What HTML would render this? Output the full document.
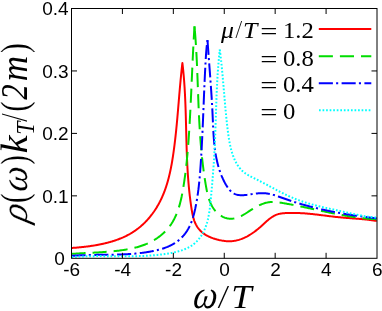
<!DOCTYPE html>
<html><head><meta charset="utf-8"><style>
html,body{margin:0;padding:0;background:#fff;}
svg{display:block;will-change:transform;}
.sans text{font-family:"Liberation Sans",sans-serif;font-size:19px;fill:#000;}
.serif{font-family:"Liberation Serif",serif;fill:#000;}
.it{font-style:italic;}
</style></head><body>
<svg width="382" height="311" viewBox="0 0 382 311">
<rect width="382" height="311" fill="#fff"/>
<g fill="none" stroke-width="2" stroke-linejoin="round">
<path d="M71.50 248.00 L72.09 247.96 L72.69 247.91 L73.29 247.87 L73.89 247.82 L74.49 247.77 L75.09 247.73 L75.69 247.68 L76.30 247.63 L76.90 247.57 L77.51 247.52 L78.12 247.47 L78.73 247.41 L79.34 247.35 L79.95 247.29 L80.56 247.23 L81.17 247.17 L81.79 247.11 L82.40 247.05 L83.02 246.98 L83.64 246.91 L84.25 246.84 L84.87 246.77 L85.49 246.70 L86.11 246.62 L86.73 246.55 L87.35 246.47 L87.97 246.39 L88.59 246.31 L89.21 246.22 L89.84 246.14 L90.46 246.05 L91.08 245.96 L91.70 245.86 L92.33 245.77 L92.95 245.67 L93.57 245.58 L94.19 245.47 L94.82 245.37 L95.44 245.27 L96.06 245.16 L96.68 245.05 L97.31 244.94 L97.93 244.82 L98.55 244.70 L99.17 244.58 L99.79 244.46 L100.41 244.34 L101.03 244.21 L101.65 244.08 L102.26 243.95 L102.88 243.81 L103.50 243.67 L104.11 243.53 L104.73 243.39 L105.34 243.24 L105.96 243.09 L106.57 242.94 L107.18 242.78 L107.79 242.62 L108.40 242.46 L109.00 242.30 L109.61 242.13 L110.22 241.96 L110.82 241.79 L111.42 241.61 L112.02 241.43 L112.62 241.25 L113.22 241.06 L113.82 240.87 L114.41 240.68 L115.00 240.48 L115.60 240.28 L116.19 240.07 L116.77 239.87 L117.36 239.66 L117.94 239.44 L118.53 239.22 L119.11 239.00 L119.68 238.78 L120.26 238.55 L120.84 238.32 L121.41 238.08 L121.98 237.84 L122.54 237.59 L123.11 237.35 L123.67 237.09 L124.23 236.84 L124.79 236.58 L125.35 236.32 L125.90 236.05 L126.45 235.78 L127.00 235.50 L127.54 235.22 L128.08 234.93 L128.62 234.65 L129.16 234.35 L129.69 234.06 L130.22 233.75 L130.75 233.45 L131.28 233.14 L131.80 232.82 L132.32 232.50 L132.83 232.18 L133.34 231.85 L133.85 231.52 L134.36 231.18 L134.86 230.84 L135.36 230.49 L135.86 230.14 L136.35 229.79 L136.84 229.43 L137.32 229.07 L137.81 228.70 L138.29 228.33 L138.76 227.95 L139.24 227.57 L139.71 227.19 L140.17 226.80 L140.64 226.41 L141.10 226.01 L141.55 225.61 L142.00 225.21 L142.45 224.80 L142.90 224.39 L143.34 223.98 L143.78 223.56 L144.22 223.14 L144.65 222.71 L145.08 222.28 L145.51 221.85 L145.93 221.41 L146.35 220.97 L146.77 220.53 L147.18 220.08 L147.59 219.63 L148.00 219.18 L148.40 218.72 L148.80 218.26 L149.19 217.80 L149.58 217.33 L149.97 216.87 L150.36 216.39 L150.74 215.92 L151.12 215.44 L151.49 214.96 L151.86 214.47 L152.23 213.99 L152.60 213.50 L152.96 213.00 L153.31 212.51 L153.67 212.01 L154.02 211.51 L154.36 211.00 L154.71 210.50 L155.05 209.99 L155.38 209.48 L155.71 208.96 L156.04 208.45 L156.37 207.93 L156.69 207.41 L157.01 206.88 L157.32 206.36 L157.63 205.83 L157.94 205.30 L158.24 204.76 L158.54 204.23 L158.84 203.69 L159.13 203.15 L159.42 202.61 L159.70 202.07 L159.99 201.52 L160.26 200.97 L160.54 200.42 L160.81 199.87 L161.08 199.32 L161.34 198.77 L161.60 198.21 L161.85 197.65 L162.11 197.09 L162.36 196.53 L162.60 195.96 L162.84 195.40 L163.08 194.83 L163.32 194.26 L163.55 193.69 L163.78 193.12 L164.01 192.55 L164.23 191.97 L164.45 191.40 L164.67 190.82 L164.88 190.24 L165.09 189.66 L165.30 189.08 L165.50 188.49 L165.70 187.91 L165.90 187.32 L166.10 186.74 L166.29 186.15 L166.48 185.56 L166.67 184.97 L166.85 184.37 L167.03 183.78 L167.21 183.19 L167.39 182.59 L167.56 181.99 L167.73 181.40 L167.90 180.80 L168.07 180.20 L168.23 179.60 L168.39 178.99 L168.55 178.39 L168.71 177.79 L168.86 177.18 L169.01 176.58 L169.16 175.97 L169.31 175.36 L169.46 174.76 L169.60 174.15 L169.74 173.54 L169.88 172.93 L170.01 172.32 L170.15 171.71 L170.28 171.09 L170.41 170.48 L170.54 169.87 L170.67 169.25 L170.79 168.64 L170.92 168.03 L171.04 167.41 L171.16 166.80 L171.27 166.18 L171.39 165.56 L171.50 164.95 L171.62 164.33 L171.73 163.71 L171.84 163.09 L171.94 162.48 L172.05 161.86 L172.16 161.24 L172.26 160.62 L172.36 160.00 L172.46 159.38 L172.56 158.76 L172.66 158.14 L172.76 157.53 L172.85 156.91 L172.95 156.29 L173.04 155.67 L173.13 155.05 L173.22 154.43 L173.31 153.81 L173.40 153.19 L173.49 152.57 L173.58 151.95 L173.67 151.34 L173.75 150.72 L173.83 150.10 L173.92 149.48 L174.00 148.87 L174.08 148.25 L174.16 147.63 L174.24 147.01 L174.32 146.40 L174.40 145.78 L174.48 145.17 L174.56 144.55 L174.63 143.93 L174.71 143.32 L174.79 142.70 L174.86 142.09 L174.93 141.47 L175.01 140.86 L175.08 140.24 L175.15 139.63 L175.22 139.02 L175.29 138.40 L175.36 137.79 L175.43 137.17 L175.50 136.56 L175.56 135.95 L175.63 135.34 L175.70 134.72 L175.76 134.11 L175.83 133.50 L175.89 132.88 L175.96 132.27 L176.02 131.66 L176.09 131.05 L176.15 130.43 L176.21 129.82 L176.27 129.21 L176.33 128.60 L176.39 127.99 L176.45 127.38 L176.51 126.77 L176.57 126.15 L176.63 125.54 L176.69 124.93 L176.75 124.32 L176.81 123.71 L176.86 123.10 L176.92 122.49 L176.98 121.88 L177.03 121.27 L177.09 120.66 L177.15 120.05 L177.20 119.43 L177.26 118.82 L177.31 118.21 L177.37 117.60 L177.42 116.99 L177.47 116.38 L177.53 115.77 L177.58 115.16 L177.63 114.55 L177.69 113.94 L177.74 113.33 L177.79 112.72 L177.84 112.11 L177.90 111.50 L177.95 110.89 L178.00 110.28 L178.05 109.67 L178.10 109.06 L178.16 108.45 L178.21 107.84 L178.26 107.23 L178.31 106.62 L178.36 106.01 L178.41 105.40 L178.46 104.79 L178.51 104.18 L178.57 103.57 L178.62 102.96 L178.67 102.35 L178.72 101.74 L178.77 101.13 L178.82 100.52 L178.87 99.91 L178.92 99.30 L178.97 98.68 L179.02 98.07 L179.08 97.46 L179.13 96.85 L179.18 96.24 L179.23 95.63 L179.28 95.02 L179.33 94.41 L179.38 93.79 L179.44 93.18 L179.49 92.57 L179.54 91.96 L179.59 91.35 L179.65 90.73 L179.70 90.12 L179.75 89.51 L179.81 88.90 L179.86 88.28 L179.91 87.67 L179.97 87.06 L180.02 86.45 L180.08 85.83 L180.13 85.22 L180.19 84.61 L180.24 83.99 L180.30 83.38 L180.36 82.76 L180.41 82.15 L180.47 81.54 L180.53 80.92 L180.58 80.31 L180.64 79.69 L180.70 79.08 L180.76 78.46 L180.82 77.84 L180.88 77.23 L180.94 76.61 L181.00 76.00 L181.06 75.38 L181.12 74.76 L181.19 74.15 L181.25 73.53 L181.31 72.91 L181.37 72.29 L181.44 71.68 L181.50 71.06 L181.57 70.44 L181.63 69.82 L181.70 69.20 L181.77 68.58 L181.84 67.96 L181.90 67.34 L181.97 66.73 L182.04 66.10 L182.11 65.48 L182.18 64.86 L182.26 64.24 L182.33 63.62 L182.40 63.00 L182.40 63.00 L182.51 63.90 L182.61 64.79 L182.71 65.69 L182.81 66.58 L182.91 67.48 L183.00 68.37 L183.10 69.27 L183.19 70.16 L183.27 71.06 L183.36 71.96 L183.45 72.85 L183.53 73.75 L183.61 74.64 L183.69 75.54 L183.77 76.43 L183.84 77.33 L183.92 78.22 L183.99 79.12 L184.06 80.01 L184.13 80.91 L184.19 81.80 L184.26 82.70 L184.32 83.60 L184.38 84.49 L184.44 85.39 L184.50 86.28 L184.56 87.18 L184.62 88.07 L184.67 88.97 L184.72 89.86 L184.77 90.76 L184.82 91.65 L184.87 92.55 L184.92 93.44 L184.97 94.34 L185.01 95.23 L185.06 96.13 L185.10 97.02 L185.14 97.92 L185.18 98.82 L185.22 99.71 L185.26 100.61 L185.30 101.50 L185.34 102.40 L185.37 103.29 L185.41 104.19 L185.44 105.08 L185.47 105.98 L185.51 106.87 L185.54 107.77 L185.57 108.66 L185.60 109.56 L185.63 110.45 L185.66 111.35 L185.68 112.24 L185.71 113.14 L185.74 114.03 L185.76 114.93 L185.79 115.82 L185.82 116.72 L185.84 117.61 L185.86 118.51 L185.89 119.41 L185.91 120.30 L185.94 121.20 L185.96 122.09 L185.98 122.99 L186.00 123.88 L186.03 124.78 L186.05 125.67 L186.07 126.57 L186.09 127.46 L186.11 128.36 L186.14 129.25 L186.16 130.15 L186.18 131.04 L186.20 131.94 L186.22 132.83 L186.25 133.73 L186.27 134.62 L186.29 135.52 L186.31 136.41 L186.34 137.31 L186.36 138.21 L186.38 139.10 L186.40 140.00 L186.43 140.89 L186.45 141.79 L186.48 142.68 L186.50 143.58 L186.53 144.47 L186.55 145.37 L186.58 146.26 L186.61 147.16 L186.64 148.05 L186.66 148.95 L186.69 149.85 L186.72 150.74 L186.75 151.64 L186.78 152.53 L186.82 153.43 L186.85 154.32 L186.88 155.22 L186.92 156.11 L186.95 157.01 L186.99 157.90 L187.03 158.80 L187.06 159.70 L187.10 160.59 L187.14 161.49 L187.19 162.38 L187.23 163.28 L187.27 164.17 L187.32 165.07 L187.36 165.97 L187.41 166.86 L187.46 167.76 L187.51 168.65 L187.56 169.55 L187.61 170.44 L187.66 171.34 L187.72 172.24 L187.78 173.13 L187.84 174.03 L187.89 174.92 L187.96 175.82 L188.02 176.71 L188.08 177.61 L188.15 178.51 L188.22 179.40 L188.29 180.30 L188.36 181.19 L188.43 182.09 L188.50 182.99 L188.58 183.88 L188.66 184.78 L188.74 185.67 L188.82 186.57 L188.91 187.47 L188.99 188.36 L189.08 189.26 L189.17 190.16 L189.26 191.05 L189.36 191.95 L189.45 192.84 L189.55 193.74 L189.65 194.64 L189.75 195.53 L189.86 196.43 L189.97 197.33 L190.08 198.22 L190.19 199.12 L190.30 200.02 L190.42 200.91 L190.54 201.81 L190.66 202.70 L190.78 203.60 L190.91 204.50 L191.04 205.39 L191.17 206.29 L191.30 207.19 L191.44 208.08 L191.58 208.98 L191.72 209.88 L191.87 210.77 L192.03 211.66 L192.19 212.55 L192.36 213.44 L192.54 214.32 L192.73 215.20 L192.93 216.07 L193.14 216.94 L193.37 217.80 L193.61 218.65 L193.87 219.49 L194.14 220.33 L194.43 221.15 L194.75 221.97 L195.08 222.77 L195.43 223.56 L195.81 224.34 L196.21 225.11 L196.64 225.86 L197.09 226.60 L197.57 227.32 L198.08 228.03 L198.61 228.72 L199.17 229.39 L199.76 230.04 L200.38 230.68 L201.01 231.30 L201.67 231.90 L202.35 232.48 L203.05 233.04 L203.78 233.58 L204.51 234.10 L205.27 234.59 L206.04 235.07 L206.83 235.52 L207.63 235.96 L208.44 236.37 L209.27 236.77 L210.11 237.14 L210.96 237.50 L211.82 237.84 L212.69 238.17 L213.58 238.47 L214.46 238.76 L215.36 239.04 L216.26 239.29 L217.17 239.54 L218.09 239.76 L219.00 239.98 L219.93 240.18 L220.85 240.36 L221.78 240.54 L222.70 240.69 L223.63 240.83 L224.55 240.95 L225.48 241.06 L226.40 241.14 L227.31 241.20 L228.22 241.23 L229.12 241.25 L230.01 241.23 L230.90 241.20 L231.78 241.14 L232.66 241.06 L233.53 240.96 L234.39 240.84 L235.25 240.69 L236.10 240.53 L236.94 240.34 L237.78 240.13 L238.61 239.91 L239.44 239.67 L240.26 239.40 L241.08 239.12 L241.89 238.82 L242.69 238.51 L243.49 238.18 L244.28 237.83 L245.07 237.46 L245.85 237.08 L246.63 236.69 L247.40 236.28 L248.16 235.85 L248.93 235.41 L249.68 234.96 L250.43 234.50 L251.18 234.02 L251.92 233.53 L252.66 233.03 L253.39 232.52 L254.12 232.00 L254.84 231.46 L255.56 230.92 L256.27 230.37 L256.98 229.81 L257.68 229.24 L258.38 228.66 L259.08 228.07 L259.77 227.48 L260.46 226.88 L261.14 226.27 L261.82 225.66 L262.50 225.04 L263.18 224.42 L263.85 223.80 L264.52 223.18 L265.19 222.57 L265.87 221.95 L266.54 221.35 L267.22 220.75 L267.91 220.17 L268.60 219.59 L269.29 219.03 L269.99 218.49 L270.70 217.97 L271.41 217.46 L272.14 216.97 L272.87 216.51 L273.62 216.08 L274.38 215.67 L275.15 215.29 L275.93 214.94 L276.73 214.62 L277.55 214.34 L278.38 214.09 L279.22 213.88 L280.08 213.70 L280.95 213.54 L281.83 213.42 L282.72 213.31 L283.62 213.22 L284.51 213.15 L285.42 213.09 L286.32 213.04 L287.22 213.00 L288.13 212.97 L289.03 212.94 L289.93 212.92 L290.84 212.90 L291.74 212.90 L292.64 212.89 L293.55 212.90 L294.45 212.91 L295.35 212.93 L296.25 212.95 L297.15 212.98 L298.05 213.01 L298.96 213.05 L299.86 213.09 L300.76 213.14 L301.66 213.19 L302.56 213.25 L303.46 213.31 L304.36 213.37 L305.26 213.44 L306.16 213.51 L307.06 213.59 L307.96 213.67 L308.86 213.75 L309.76 213.84 L310.66 213.93 L311.56 214.02 L312.45 214.11 L313.35 214.21 L314.25 214.31 L315.15 214.41 L316.05 214.51 L316.94 214.61 L317.84 214.72 L318.74 214.83 L319.63 214.94 L320.53 215.04 L321.43 215.15 L322.32 215.27 L323.22 215.38 L324.11 215.49 L325.01 215.60 L325.91 215.71 L326.80 215.82 L327.69 215.93 L328.59 216.05 L329.48 216.16 L330.38 216.26 L331.27 216.37 L332.16 216.48 L333.06 216.59 L333.95 216.69 L334.84 216.79 L335.73 216.89 L336.62 216.99 L337.52 217.09 L338.41 217.18 L339.30 217.27 L340.19 217.36 L341.08 217.44 L341.97 217.53 L342.86 217.61 L343.75 217.68 L344.64 217.76 L345.53 217.83 L346.42 217.90 L347.31 217.97 L348.19 218.04 L349.08 218.11 L349.97 218.18 L350.86 218.24 L351.75 218.31 L352.64 218.38 L353.53 218.44 L354.41 218.51 L355.30 218.58 L356.19 218.64 L357.08 218.71 L357.97 218.78 L358.86 218.86 L359.75 218.93 L360.64 219.01 L361.53 219.09 L362.42 219.17 L363.31 219.25 L364.20 219.34 L365.09 219.43 L365.98 219.52 L366.87 219.62 L367.76 219.72 L368.65 219.82 L369.54 219.93 L370.44 220.05 L371.33 220.17 L372.22 220.29 L373.12 220.42 L374.01 220.56 L374.91 220.70 L375.80 220.85 L376.70 221.00" stroke="#ff0000"/>
<path d="M71.50 253.90 L72.26 253.85 L73.02 253.79 L73.78 253.74 L74.54 253.69 L75.31 253.64 L76.07 253.59 L76.83 253.55 L77.59 253.50 L78.36 253.46 L79.12 253.41 L79.89 253.37 L80.65 253.33 L81.42 253.28 L82.18 253.24 L82.95 253.20 L83.71 253.16 L84.48 253.12 L85.25 253.08 L86.01 253.05 L86.78 253.01 L87.55 252.97 L88.32 252.93 L89.08 252.89 L89.85 252.85 L90.62 252.81 L91.39 252.77 L92.16 252.73 L92.93 252.69 L93.70 252.65 L94.47 252.61 L95.24 252.57 L96.02 252.53 L96.79 252.48 L97.56 252.44 L98.33 252.39 L99.11 252.35 L99.88 252.30 L100.65 252.25 L101.43 252.20 L102.20 252.15 L102.97 252.10 L103.75 252.04 L104.52 251.99 L105.30 251.93 L106.07 251.87 L106.85 251.81 L107.62 251.75 L108.40 251.69 L109.18 251.62 L109.95 251.55 L110.73 251.48 L111.51 251.41 L112.29 251.33 L113.06 251.26 L113.84 251.18 L114.62 251.09 L115.40 251.01 L116.18 250.92 L116.96 250.83 L117.74 250.74 L118.52 250.64 L119.30 250.55 L120.08 250.44 L120.86 250.34 L121.64 250.23 L122.42 250.12 L123.20 250.00 L123.98 249.89 L124.76 249.76 L125.53 249.64 L126.31 249.51 L127.09 249.37 L127.87 249.23 L128.64 249.09 L129.42 248.94 L130.19 248.78 L130.96 248.63 L131.73 248.46 L132.50 248.29 L133.27 248.12 L134.03 247.94 L134.79 247.75 L135.56 247.56 L136.31 247.36 L137.07 247.16 L137.82 246.95 L138.57 246.73 L139.32 246.51 L140.07 246.28 L140.81 246.04 L141.55 245.80 L142.28 245.55 L143.01 245.29 L143.74 245.02 L144.47 244.75 L145.19 244.47 L145.90 244.18 L146.62 243.88 L147.32 243.57 L148.03 243.26 L148.73 242.94 L149.42 242.60 L150.11 242.26 L150.80 241.92 L151.48 241.56 L152.16 241.19 L152.83 240.82 L153.49 240.44 L154.15 240.05 L154.80 239.65 L155.45 239.25 L156.09 238.84 L156.73 238.41 L157.36 237.99 L157.98 237.55 L158.60 237.10 L159.21 236.65 L159.81 236.19 L160.41 235.72 L161.00 235.25 L161.59 234.76 L162.16 234.27 L162.73 233.77 L163.29 233.27 L163.84 232.75 L164.39 232.23 L164.93 231.70 L165.46 231.17 L165.98 230.63 L166.49 230.08 L167.00 229.52 L167.49 228.95 L167.98 228.38 L168.46 227.80 L168.93 227.22 L169.39 226.63 L169.85 226.03 L170.29 225.42 L170.72 224.81 L171.14 224.19 L171.56 223.56 L171.96 222.93 L172.36 222.29 L172.75 221.64 L173.12 220.99 L173.49 220.33 L173.85 219.67 L174.21 219.00 L174.55 218.32 L174.89 217.64 L175.21 216.95 L175.53 216.26 L175.84 215.57 L176.15 214.87 L176.45 214.16 L176.74 213.45 L177.02 212.74 L177.29 212.02 L177.56 211.29 L177.82 210.57 L178.08 209.83 L178.33 209.10 L178.57 208.36 L178.81 207.62 L179.04 206.87 L179.26 206.12 L179.48 205.37 L179.70 204.62 L179.91 203.86 L180.11 203.10 L180.31 202.34 L180.50 201.57 L180.69 200.81 L180.87 200.04 L181.05 199.27 L181.23 198.49 L181.40 197.72 L181.56 196.94 L181.73 196.16 L181.88 195.38 L182.04 194.60 L182.19 193.82 L182.34 193.04 L182.48 192.26 L182.63 191.48 L182.77 190.69 L182.90 189.91 L183.04 189.12 L183.17 188.34 L183.30 187.56 L183.42 186.77 L183.55 185.99 L183.67 185.21 L183.79 184.42 L183.91 183.64 L184.03 182.86 L184.15 182.08 L184.26 181.30 L184.38 180.52 L184.49 179.75 L184.60 178.97 L184.71 178.19 L184.82 177.42 L184.92 176.64 L185.03 175.87 L185.13 175.09 L185.23 174.32 L185.33 173.55 L185.43 172.77 L185.52 172.00 L185.62 171.23 L185.71 170.46 L185.81 169.69 L185.90 168.92 L185.99 168.15 L186.08 167.38 L186.17 166.61 L186.25 165.84 L186.34 165.07 L186.42 164.30 L186.51 163.54 L186.59 162.77 L186.67 162.00 L186.75 161.23 L186.83 160.47 L186.90 159.70 L186.98 158.94 L187.05 158.17 L187.13 157.41 L187.20 156.64 L187.27 155.88 L187.35 155.11 L187.42 154.35 L187.48 153.58 L187.55 152.82 L187.62 152.05 L187.69 151.29 L187.75 150.53 L187.82 149.76 L187.88 149.00 L187.94 148.24 L188.00 147.47 L188.07 146.71 L188.13 145.95 L188.19 145.18 L188.24 144.42 L188.30 143.65 L188.36 142.89 L188.42 142.13 L188.47 141.36 L188.53 140.60 L188.58 139.84 L188.64 139.07 L188.69 138.31 L188.74 137.54 L188.80 136.78 L188.85 136.02 L188.90 135.25 L188.95 134.49 L189.00 133.72 L189.05 132.96 L189.10 132.19 L189.15 131.43 L189.20 130.66 L189.25 129.89 L189.29 129.13 L189.34 128.36 L189.39 127.59 L189.44 126.83 L189.48 126.06 L189.53 125.29 L189.57 124.52 L189.62 123.76 L189.66 122.99 L189.71 122.22 L189.75 121.45 L189.79 120.68 L189.84 119.91 L189.88 119.14 L189.92 118.37 L189.96 117.60 L190.01 116.83 L190.05 116.06 L190.09 115.29 L190.13 114.52 L190.17 113.75 L190.21 112.98 L190.25 112.21 L190.29 111.44 L190.33 110.67 L190.37 109.89 L190.41 109.12 L190.45 108.35 L190.49 107.58 L190.53 106.81 L190.57 106.03 L190.60 105.26 L190.64 104.49 L190.68 103.72 L190.72 102.94 L190.75 102.17 L190.79 101.40 L190.83 100.62 L190.86 99.85 L190.90 99.08 L190.94 98.30 L190.97 97.53 L191.01 96.76 L191.05 95.98 L191.08 95.21 L191.12 94.44 L191.15 93.66 L191.19 92.89 L191.22 92.11 L191.26 91.34 L191.29 90.56 L191.33 89.79 L191.36 89.01 L191.40 88.24 L191.43 87.47 L191.47 86.69 L191.50 85.92 L191.54 85.14 L191.57 84.37 L191.61 83.59 L191.64 82.82 L191.68 82.04 L191.71 81.27 L191.74 80.49 L191.78 79.72 L191.81 78.94 L191.85 78.17 L191.88 77.39 L191.92 76.62 L191.95 75.84 L191.99 75.07 L192.02 74.29 L192.06 73.52 L192.09 72.74 L192.12 71.97 L192.16 71.19 L192.19 70.42 L192.23 69.64 L192.26 68.87 L192.30 68.09 L192.33 67.32 L192.37 66.54 L192.40 65.77 L192.44 64.99 L192.48 64.22 L192.51 63.44 L192.55 62.67 L192.58 61.89 L192.62 61.12 L192.66 60.35 L192.69 59.57 L192.73 58.80 L192.77 58.02 L192.80 57.25 L192.84 56.48 L192.88 55.70 L192.92 54.93 L192.95 54.15 L192.99 53.38 L193.03 52.61 L193.07 51.83 L193.11 51.06 L193.14 50.29 L193.18 49.51 L193.22 48.74 L193.26 47.97 L193.30 47.20 L193.34 46.42 L193.38 45.65 L193.42 44.88 L193.46 44.11 L193.51 43.34 L193.55 42.56 L193.59 41.79 L193.63 41.02 L193.67 40.25 L193.72 39.48 L193.76 38.71 L193.80 37.94 L193.85 37.17 L193.89 36.40 L193.94 35.63 L193.98 34.86 L194.03 34.09 L194.07 33.32 L194.12 32.55 L194.16 31.78 L194.21 31.01 L194.26 30.24 L194.31 29.47 L194.35 28.70 L194.40 27.94 L194.45 27.17 L194.50 26.40" stroke="#00dd00" stroke-dasharray="14.1 7" stroke-dashoffset="0.0"/>
<path d="M194.50 26.40 L194.58 27.30 L194.66 28.20 L194.74 29.10 L194.82 30.00 L194.89 30.89" stroke="#00dd00"/>
<path d="M194.89 30.89 L194.97 31.79 L195.04 32.69 L195.11 33.59 L195.18 34.49 L195.25 35.38 L195.32 36.28 L195.38 37.18 L195.45 38.07 L195.51 38.97 L195.58 39.86 L195.64 40.76 L195.70 41.65 L195.76 42.55 L195.82 43.45 L195.88 44.34 L195.93 45.23 L195.99 46.13 L196.04 47.02 L196.10 47.92 L196.15 48.81 L196.20 49.70 L196.25 50.60 L196.31 51.49 L196.35 52.38 L196.40 53.28 L196.45 54.17 L196.50 55.06 L196.54 55.95 L196.59 56.84 L196.64 57.74 L196.68 58.63 L196.72 59.52 L196.77 60.41 L196.81 61.30 L196.85 62.19 L196.89 63.08 L196.93 63.97 L196.97 64.86 L197.01 65.75 L197.05 66.64 L197.09 67.53 L197.13 68.42 L197.16 69.31 L197.20 70.20 L197.24 71.09 L197.27 71.98 L197.31 72.87 L197.34 73.76 L197.38 74.65 L197.41 75.54 L197.45 76.43 L197.48 77.32 L197.52 78.21 L197.55 79.09 L197.58 79.98 L197.62 80.87 L197.65 81.76 L197.68 82.65 L197.71 83.54 L197.75 84.42 L197.78 85.31 L197.81 86.20 L197.85 87.09 L197.88 87.98 L197.91 88.86 L197.94 89.75 L197.98 90.64 L198.01 91.53 L198.04 92.42 L198.07 93.30 L198.11 94.19 L198.14 95.08 L198.17 95.97 L198.21 96.85 L198.24 97.74 L198.27 98.63 L198.31 99.52 L198.34 100.40 L198.38 101.29 L198.41 102.18 L198.45 103.07 L198.48 103.95 L198.52 104.84 L198.55 105.73 L198.59 106.62 L198.63 107.50 L198.67 108.39 L198.70 109.28 L198.74 110.17 L198.78 111.06 L198.82 111.94 L198.86 112.83 L198.90 113.72 L198.94 114.61 L198.99 115.49 L199.03 116.38 L199.07 117.27 L199.11 118.16 L199.16 119.05 L199.20 119.93 L199.25 120.82 L199.30 121.71 L199.34 122.60 L199.39 123.49 L199.44 124.38 L199.49 125.27 L199.54 126.15 L199.59 127.04 L199.65 127.93 L199.70 128.82 L199.76 129.71 L199.81 130.60 L199.87 131.49 L199.92 132.38 L199.98 133.27 L200.04 134.16 L200.10 135.05 L200.16 135.94 L200.23 136.83 L200.29 137.72 L200.36 138.61 L200.42 139.50 L200.49 140.39 L200.56 141.28 L200.63 142.17 L200.70 143.06 L200.77 143.95 L200.84 144.85 L200.92 145.74 L200.99 146.63 L201.07 147.52 L201.15 148.41 L201.23 149.31 L201.31 150.20 L201.40 151.09 L201.48 151.98 L201.57 152.88 L201.65 153.77 L201.74 154.66 L201.83 155.56 L201.93 156.45 L202.02 157.35 L202.12 158.24 L202.21 159.14 L202.31 160.03 L202.41 160.93 L202.51 161.82 L202.62 162.72 L202.72 163.61 L202.83 164.51 L202.94 165.40 L203.05 166.30 L203.16 167.20 L203.27 168.09 L203.39 168.99 L203.51 169.89 L203.63 170.79 L203.75 171.68 L203.87 172.58 L204.00 173.48 L204.13 174.38 L204.26 175.28 L204.39 176.18 L204.52 177.08 L204.66 177.98 L204.79 178.88 L204.93 179.78 L205.08 180.68 L205.22 181.58 L205.37 182.48 L205.51 183.38 L205.66 184.29 L205.82 185.19 L205.97 186.09 L206.13 186.99 L206.29 187.90 L206.46 188.80 L206.63 189.70 L206.81 190.59 L206.99 191.49 L207.18 192.38 L207.38 193.26 L207.59 194.15 L207.81 195.02 L208.04 195.90 L208.27 196.76 L208.52 197.62 L208.79 198.48 L209.06 199.32 L209.35 200.16 L209.66 200.99 L209.98 201.81 L210.31 202.63 L210.67 203.43 L211.04 204.22 L211.43 205.00 L211.83 205.77 L212.26 206.53 L212.71 207.28 L213.18 208.01 L213.67 208.73 L214.18 209.43 L214.71 210.13 L215.27 210.80 L215.86 211.46 L216.47 212.11 L217.10 212.73 L217.75 213.34 L218.42 213.92 L219.11 214.47 L219.82 215.00 L220.54 215.51 L221.28 215.98 L222.04 216.42 L222.81 216.83 L223.59 217.20 L224.38 217.54 L225.19 217.84 L226.00 218.09 L226.82 218.31 L227.65 218.48 L228.48 218.61 L229.32 218.69 L230.17 218.74 L231.02 218.74 L231.87 218.71 L232.72 218.63 L233.57 218.52 L234.43 218.38 L235.28 218.20 L236.13 217.98 L236.98 217.73 L237.83 217.45 L238.67 217.14 L239.51 216.80 L240.34 216.43 L241.16 216.04 L241.98 215.62 L242.80 215.18 L243.61 214.72 L244.42 214.24 L245.22 213.75 L246.02 213.25 L246.82 212.74 L247.62 212.23 L248.41 211.71 L249.20 211.20 L249.99 210.68 L250.78 210.17 L251.57 209.67 L252.36 209.17 L253.15 208.68 L253.94 208.21 L254.73 207.74 L255.52 207.29 L256.31 206.84 L257.11 206.42 L257.90 206.00 L258.70 205.60 L259.50 205.22 L260.30 204.85 L261.10 204.50 L261.91 204.17 L262.72 203.86 L263.53 203.57 L264.34 203.29 L265.16 203.05 L265.98 202.82 L266.81 202.62 L267.64 202.44 L268.47 202.29 L269.31 202.16 L270.16 202.06 L271.01 201.99 L271.86 201.95 L272.72 201.93 L273.58 201.94 L274.45 201.98 L275.32 202.03 L276.20 202.11 L277.08 202.20 L277.96 202.31 L278.84 202.43 L279.72 202.56 L280.61 202.69 L281.49 202.84 L282.37 202.98 L283.26 203.13 L284.14 203.28 L285.02 203.43 L285.91 203.59 L286.79 203.74 L287.67 203.90 L288.55 204.06 L289.43 204.22 L290.32 204.39 L291.20 204.55 L292.08 204.72 L292.96 204.89 L293.84 205.06 L294.72 205.24 L295.60 205.41 L296.48 205.59 L297.36 205.76 L298.24 205.94 L299.11 206.12 L299.99 206.30 L300.87 206.48 L301.75 206.66 L302.63 206.85 L303.51 207.03 L304.38 207.22 L305.26 207.40 L306.14 207.59 L307.02 207.78 L307.89 207.96 L308.77 208.15 L309.65 208.34 L310.52 208.53 L311.40 208.72 L312.28 208.91 L313.16 209.10 L314.03 209.29 L314.91 209.48 L315.79 209.67 L316.66 209.86 L317.54 210.05 L318.42 210.24 L319.29 210.43 L320.17 210.62 L321.05 210.81 L321.92 211.00 L322.80 211.19 L323.68 211.37 L324.55 211.56 L325.43 211.75 L326.31 211.93 L327.19 212.12 L328.06 212.30 L328.94 212.48 L329.82 212.66 L330.69 212.85 L331.57 213.02 L332.45 213.20 L333.33 213.38 L334.21 213.56 L335.08 213.73 L335.96 213.90 L336.84 214.07 L337.72 214.24 L338.60 214.41 L339.48 214.58 L340.36 214.74 L341.24 214.91 L342.12 215.07 L343.00 215.23 L343.88 215.38 L344.76 215.54 L345.64 215.69 L346.52 215.84 L347.40 215.99 L348.28 216.14 L349.17 216.28 L350.05 216.42 L350.93 216.56 L351.81 216.70 L352.70 216.83 L353.58 216.96 L354.46 217.09 L355.35 217.21 L356.23 217.34 L357.12 217.46 L358.00 217.57 L358.89 217.68 L359.77 217.79 L360.66 217.90 L361.55 218.00 L362.44 218.10 L363.32 218.20 L364.21 218.29 L365.10 218.38 L365.99 218.47 L366.88 218.55 L367.77 218.63 L368.66 218.71 L369.55 218.78 L370.44 218.84 L371.34 218.91 L372.23 218.97 L373.12 219.02 L374.02 219.07 L374.91 219.12 L375.80 219.16 L376.70 219.20" stroke="#00dd00" stroke-dasharray="14.1 7" stroke-dashoffset="0.0"/>
<path d="M71.50 255.90 L72.29 255.84 L73.08 255.77 L73.87 255.71 L74.66 255.66 L75.45 255.60 L76.24 255.55 L77.03 255.50 L77.82 255.46 L78.61 255.41 L79.40 255.37 L80.19 255.33 L80.98 255.29 L81.77 255.26 L82.56 255.22 L83.34 255.19 L84.13 255.16 L84.92 255.14 L85.71 255.11 L86.50 255.08 L87.29 255.06 L88.08 255.04 L88.87 255.02 L89.66 255.00 L90.45 254.98 L91.24 254.96 L92.03 254.95 L92.81 254.93 L93.60 254.92 L94.39 254.91 L95.18 254.90 L95.97 254.88 L96.76 254.87 L97.55 254.86 L98.34 254.85 L99.13 254.84 L99.92 254.83 L100.71 254.83 L101.49 254.82 L102.28 254.81 L103.07 254.80 L103.86 254.79 L104.65 254.78 L105.44 254.77 L106.23 254.77 L107.02 254.76 L107.81 254.75 L108.60 254.74 L109.39 254.72 L110.18 254.71 L110.97 254.70 L111.76 254.69 L112.55 254.67 L113.34 254.66 L114.13 254.64 L114.92 254.63 L115.71 254.61 L116.50 254.59 L117.29 254.57 L118.08 254.55 L118.87 254.52 L119.66 254.50 L120.45 254.47 L121.24 254.44 L122.03 254.41 L122.82 254.38 L123.61 254.35 L124.40 254.31 L125.19 254.27 L125.98 254.23 L126.77 254.19 L127.56 254.14 L128.36 254.10 L129.15 254.05 L129.94 254.00 L130.73 253.94 L131.52 253.88 L132.31 253.82 L133.11 253.76 L133.90 253.70 L134.69 253.63 L135.48 253.56 L136.28 253.48 L137.07 253.40 L137.86 253.32 L138.65 253.24 L139.45 253.15 L140.24 253.06 L141.03 252.96 L141.83 252.87 L142.62 252.76 L143.41 252.66 L144.21 252.55 L145.00 252.43 L145.80 252.32 L146.59 252.19 L147.39 252.07 L148.18 251.94 L148.98 251.80 L149.77 251.66 L150.57 251.52 L151.36 251.37 L152.16 251.22 L152.95 251.06 L153.75 250.90 L154.54 250.73 L155.33 250.56 L156.12 250.38 L156.91 250.19 L157.69 250.00 L158.48 249.80 L159.26 249.59 L160.03 249.38 L160.81 249.16 L161.58 248.93 L162.34 248.69 L163.10 248.45 L163.86 248.20 L164.61 247.94 L165.36 247.67 L166.10 247.39 L166.84 247.10 L167.57 246.81 L168.30 246.50 L169.01 246.19 L169.72 245.86 L170.43 245.53 L171.13 245.18 L171.81 244.83 L172.50 244.46 L173.17 244.08 L173.83 243.69 L174.49 243.29 L175.14 242.88 L175.77 242.46 L176.40 242.02 L177.02 241.57 L177.63 241.12 L178.23 240.65 L178.82 240.16 L179.40 239.67 L179.97 239.17 L180.53 238.66 L181.08 238.13 L181.62 237.60 L182.15 237.05 L182.67 236.50 L183.18 235.93 L183.68 235.36 L184.17 234.77 L184.65 234.18 L185.12 233.58 L185.57 232.97 L186.02 232.34 L186.45 231.71 L186.88 231.07 L187.29 230.43 L187.69 229.77 L188.08 229.11 L188.46 228.43 L188.82 227.75 L189.18 227.06 L189.53 226.37 L189.86 225.66 L190.19 224.95 L190.51 224.24 L190.81 223.51 L191.11 222.79 L191.40 222.05 L191.68 221.31 L191.95 220.57 L192.21 219.82 L192.47 219.06 L192.71 218.30 L192.95 217.54 L193.19 216.77 L193.41 216.00 L193.63 215.23 L193.84 214.45 L194.05 213.67 L194.25 212.88 L194.44 212.10 L194.63 211.31 L194.81 210.52 L194.99 209.73 L195.17 208.94 L195.33 208.15 L195.50 207.36 L195.66 206.56 L195.82 205.77 L195.97 204.97 L196.12 204.18 L196.27 203.39 L196.41 202.59 L196.56 201.80 L196.69 201.01 L196.83 200.22 L196.96 199.43 L197.09 198.63 L197.22 197.84 L197.34 197.05 L197.46 196.26 L197.58 195.47 L197.69 194.68 L197.81 193.89 L197.92 193.10 L198.03 192.31 L198.13 191.52 L198.23 190.73 L198.34 189.95 L198.43 189.16 L198.53 188.37 L198.62 187.58 L198.72 186.79 L198.81 186.00 L198.89 185.22 L198.98 184.43 L199.07 183.64 L199.15 182.85 L199.23 182.06 L199.31 181.28 L199.38 180.49 L199.46 179.70 L199.53 178.92 L199.61 178.13 L199.68 177.34 L199.75 176.55 L199.81 175.77 L199.88 174.98 L199.95 174.19 L200.01 173.41 L200.07 172.62 L200.14 171.83 L200.20 171.05 L200.26 170.26 L200.32 169.47 L200.37 168.69 L200.43 167.90 L200.49 167.11 L200.54 166.33 L200.60 165.54 L200.65 164.75 L200.71 163.96 L200.76 163.18 L200.81 162.39 L200.86 161.60 L200.92 160.81 L200.97 160.03 L201.02 159.24 L201.07 158.45 L201.12 157.66 L201.16 156.88 L201.21 156.09 L201.26 155.30 L201.31 154.51 L201.35 153.72 L201.40 152.94 L201.45 152.15 L201.49 151.36 L201.54 150.57 L201.58 149.78 L201.62 149.00 L201.67 148.21 L201.71 147.42 L201.75 146.63 L201.80 145.84 L201.84 145.05 L201.88 144.26 L201.92 143.48 L201.96 142.69 L202.00 141.90 L202.04 141.11 L202.08 140.32 L202.12 139.53 L202.16 138.74 L202.20 137.95 L202.23 137.16 L202.27 136.38 L202.31 135.59 L202.35 134.80 L202.38 134.01 L202.42 133.22 L202.46 132.43 L202.49 131.64 L202.53 130.85 L202.56 130.06 L202.60 129.27 L202.64 128.48 L202.67 127.69 L202.70 126.90 L202.74 126.11 L202.77 125.32 L202.81 124.54 L202.84 123.75 L202.88 122.96 L202.91 122.17 L202.94 121.38 L202.98 120.59 L203.01 119.80 L203.04 119.01 L203.07 118.22 L203.11 117.43 L203.14 116.64 L203.17 115.85 L203.20 115.06 L203.24 114.27 L203.27 113.48 L203.30 112.69 L203.33 111.90 L203.36 111.11 L203.40 110.32 L203.43 109.53 L203.46 108.74 L203.49 107.95 L203.52 107.16 L203.56 106.37 L203.59 105.58 L203.62 104.79 L203.65 104.00 L203.68 103.21 L203.72 102.42 L203.75 101.63 L203.78 100.84 L203.81 100.05 L203.84 99.26 L203.88 98.47 L203.91 97.68 L203.94 96.89 L203.97 96.10 L204.00 95.31 L204.04 94.52 L204.07 93.73 L204.10 92.94 L204.14 92.15 L204.17 91.36 L204.20 90.57 L204.24 89.78 L204.27 88.99 L204.30 88.20 L204.34 87.41 L204.37 86.62 L204.41 85.83 L204.44 85.04 L204.48 84.25 L204.51 83.46 L204.55 82.67 L204.58 81.88 L204.62 81.09 L204.65 80.30 L204.69 79.51 L204.73 78.72 L204.76 77.93 L204.80 77.14 L204.84 76.35 L204.87 75.56 L204.91 74.77 L204.95 73.98 L204.99 73.19 L205.03 72.40 L205.07 71.61 L205.11 70.82 L205.15 70.03 L205.19 69.24 L205.23 68.45 L205.27 67.66 L205.31 66.87 L205.35 66.08 L205.40 65.29 L205.44 64.50 L205.48 63.71 L205.53 62.92 L205.57 62.13 L205.61 61.34 L205.66 60.55 L205.71 59.76 L205.75 58.97 L205.80 58.19 L205.85 57.40 L205.90 56.61 L205.95 55.82 L206.00 55.03 L206.05 54.24 L206.11 53.45 L206.17 52.67 L206.23 51.88 L206.29 51.09 L206.36 50.30 L206.42 49.52 L206.49 48.73 L206.57 47.94 L206.64 47.16 L206.72 46.37 L206.81 45.59 L206.89 44.80 L206.98 44.02 L207.08 43.23 L207.18 42.45 L207.28 41.66 L207.39 40.88 L207.50 40.10" stroke="#0000ff" stroke-dasharray="14.1 3.2 2.1 3.4" stroke-dashoffset="0.0"/>
<path d="M207.50 40.10 L207.55 40.87" stroke="#0000ff"/>
<path d="M207.55 40.87 L207.61 41.65 L207.66 42.42 L207.71 43.19 L207.77 43.96 L207.82 44.73 L207.88 45.50 L207.93 46.27 L207.99 47.04 L208.04 47.81 L208.10 48.57 L208.15 49.34 L208.21 50.11 L208.26 50.87 L208.32 51.64 L208.37 52.40 L208.43 53.17 L208.49 53.93 L208.54 54.69 L208.60 55.46 L208.66 56.22 L208.71 56.98 L208.77 57.74 L208.83 58.51 L208.89 59.27 L208.94 60.03 L209.00 60.79 L209.06 61.55 L209.11 62.31 L209.17 63.07 L209.23 63.83 L209.29 64.59 L209.34 65.34 L209.40 66.10 L209.46 66.86 L209.51 67.62 L209.57 68.38 L209.63 69.14 L209.69 69.89 L209.74 70.65 L209.80 71.41 L209.86 72.16 L209.91 72.92 L209.97 73.68 L210.03 74.44 L210.08 75.19 L210.14 75.95 L210.19 76.70 L210.25 77.46 L210.31 78.22 L210.36 78.97 L210.42 79.73 L210.47 80.49 L210.53 81.24 L210.58 82.00 L210.64 82.76 L210.69 83.51 L210.74 84.27 L210.80 85.03 L210.85 85.78 L210.90 86.54 L210.96 87.30 L211.01 88.05 L211.06 88.81 L211.11 89.57 L211.17 90.33 L211.22 91.08 L211.27 91.84 L211.32 92.60 L211.37 93.36 L211.42 94.12 L211.47 94.88 L211.52 95.64 L211.56 96.40 L211.61 97.15 L211.66 97.92 L211.71 98.68 L211.75 99.44 L211.80 100.20 L211.85 100.96 L211.89 101.72 L211.94 102.48 L211.98 103.25 L212.03 104.01 L212.07 104.77 L212.11 105.54 L212.16 106.30 L212.20 107.06 L212.24 107.83 L212.28 108.60 L212.32 109.36 L212.36 110.13 L212.40 110.90 L212.44 111.66 L212.47 112.43 L212.51 113.20 L212.55 113.97 L212.58 114.74 L212.62 115.51 L212.65 116.28 L212.69 117.05 L212.72 117.83 L212.76 118.60 L212.79 119.37 L212.82 120.15 L212.86 120.92 L212.89 121.69 L212.92 122.47 L212.96 123.24 L212.99 124.02 L213.03 124.79 L213.06 125.57 L213.10 126.34 L213.14 127.12 L213.17 127.90 L213.21 128.67 L213.25 129.45 L213.29 130.22 L213.33 131.00 L213.38 131.77 L213.42 132.55 L213.47 133.32 L213.52 134.10 L213.57 134.87 L213.62 135.65 L213.67 136.42 L213.73 137.20 L213.78 137.97 L213.84 138.74 L213.91 139.52 L213.97 140.29 L214.04 141.06 L214.11 141.83 L214.18 142.60 L214.25 143.37 L214.33 144.14 L214.41 144.91 L214.49 145.68 L214.58 146.44 L214.67 147.21 L214.76 147.97 L214.86 148.74 L214.96 149.50 L215.06 150.26 L215.17 151.03 L215.28 151.79 L215.40 152.55 L215.52 153.30 L215.64 154.06 L215.77 154.82 L215.90 155.57 L216.04 156.33 L216.18 157.08 L216.32 157.83 L216.47 158.58 L216.63 159.33 L216.79 160.08 L216.95 160.82 L217.12 161.57 L217.29 162.31 L217.47 163.05 L217.66 163.79 L217.85 164.53 L218.04 165.27 L218.24 166.00 L218.45 166.74 L218.66 167.47 L218.88 168.20 L219.11 168.93 L219.34 169.65 L219.58 170.38 L219.82 171.10 L220.07 171.82 L220.32 172.54 L220.59 173.25 L220.86 173.97 L221.13 174.68 L221.42 175.39 L221.70 176.10 L222.00 176.81 L222.31 177.51 L222.62 178.21 L222.93 178.91 L223.26 179.61 L223.59 180.30 L223.93 181.00 L224.28 181.69 L224.64 182.37 L225.00 183.06 L225.38 183.74 L225.76 184.42 L226.15 185.08 L226.55 185.74 L226.96 186.39 L227.38 187.03 L227.81 187.66 L228.25 188.27 L228.70 188.86 L229.17 189.44 L229.65 189.99 L230.14 190.53 L230.65 191.04 L231.17 191.53 L231.70 192.00 L232.25 192.43 L232.81 192.84 L233.39 193.22 L233.99 193.56 L234.60 193.87 L235.23 194.15 L235.87 194.39 L236.53 194.60 L237.21 194.77 L237.90 194.91 L238.61 195.03 L239.33 195.11 L240.06 195.17 L240.80 195.21 L241.55 195.22 L242.31 195.21 L243.08 195.19 L243.86 195.14 L244.64 195.08 L245.43 195.01 L246.23 194.92 L247.03 194.83 L247.83 194.72 L248.64 194.61 L249.45 194.49 L250.25 194.37 L251.06 194.25 L251.87 194.13 L252.67 194.01 L253.47 193.89 L254.27 193.78 L255.07 193.67 L255.86 193.57 L256.65 193.48 L257.44 193.39 L258.23 193.32 L259.01 193.26 L259.79 193.21 L260.56 193.17 L261.33 193.14 L262.10 193.13 L262.87 193.14 L263.63 193.17 L264.39 193.21 L265.14 193.27 L265.89 193.35 L266.64 193.44 L267.39 193.54 L268.13 193.67 L268.87 193.80 L269.61 193.95 L270.35 194.11 L271.08 194.28 L271.81 194.46 L272.54 194.66 L273.27 194.86 L274.00 195.07 L274.72 195.29 L275.44 195.51 L276.17 195.75 L276.89 195.98 L277.61 196.23 L278.33 196.48 L279.05 196.73 L279.77 196.98 L280.49 197.24 L281.21 197.50 L281.93 197.76 L282.65 198.02 L283.37 198.27 L284.09 198.53 L284.81 198.79 L285.53 199.04 L286.25 199.29 L286.98 199.55 L287.70 199.79 L288.42 200.04 L289.15 200.29 L289.87 200.53 L290.60 200.77 L291.33 201.01 L292.05 201.25 L292.78 201.48 L293.51 201.72 L294.24 201.95 L294.97 202.18 L295.70 202.41 L296.43 202.63 L297.16 202.86 L297.89 203.08 L298.63 203.30 L299.36 203.52 L300.09 203.74 L300.83 203.96 L301.56 204.17 L302.30 204.39 L303.03 204.60 L303.77 204.81 L304.50 205.01 L305.24 205.22 L305.98 205.42 L306.72 205.63 L307.46 205.83 L308.20 206.03 L308.94 206.23 L309.68 206.42 L310.42 206.62 L311.16 206.81 L311.90 207.00 L312.64 207.19 L313.38 207.38 L314.12 207.57 L314.87 207.75 L315.61 207.94 L316.36 208.12 L317.10 208.30 L317.84 208.48 L318.59 208.65 L319.34 208.83 L320.08 209.00 L320.83 209.18 L321.57 209.35 L322.32 209.52 L323.07 209.69 L323.82 209.85 L324.56 210.02 L325.31 210.18 L326.06 210.35 L326.81 210.51 L327.56 210.67 L328.31 210.82 L329.06 210.98 L329.81 211.14 L330.56 211.29 L331.31 211.44 L332.06 211.59 L332.82 211.74 L333.57 211.89 L334.32 212.04 L335.07 212.18 L335.82 212.33 L336.58 212.47 L337.33 212.61 L338.08 212.75 L338.84 212.89 L339.59 213.03 L340.35 213.16 L341.10 213.30 L341.85 213.43 L342.61 213.56 L343.36 213.70 L344.12 213.82 L344.87 213.95 L345.63 214.08 L346.39 214.21 L347.14 214.33 L347.90 214.45 L348.65 214.58 L349.41 214.70 L350.17 214.82 L350.92 214.94 L351.68 215.05 L352.44 215.17 L353.20 215.28 L353.95 215.40 L354.71 215.51 L355.47 215.62 L356.22 215.73 L356.98 215.84 L357.74 215.95 L358.50 216.06 L359.26 216.16 L360.01 216.27 L360.77 216.37 L361.53 216.47 L362.29 216.57 L363.05 216.67 L363.81 216.77 L364.56 216.87 L365.32 216.97 L366.08 217.06 L366.84 217.16 L367.60 217.25 L368.36 217.35 L369.11 217.44 L369.87 217.53 L370.63 217.62 L371.39 217.71 L372.15 217.79 L372.91 217.88 L373.67 217.97 L374.42 218.05 L375.18 218.14 L375.94 218.22 L376.70 218.30" stroke="#0000ff" stroke-dasharray="14 3.15 2.1 3.3" stroke-dashoffset="0.0"/>
<path d="M71.50 257.10 L72.32 257.03 L73.14 256.97 L73.96 256.91 L74.78 256.85 L75.60 256.80 L76.41 256.74 L77.23 256.69 L78.05 256.65 L78.87 256.60 L79.68 256.56 L80.50 256.52 L81.31 256.48 L82.13 256.44 L82.94 256.41 L83.76 256.38 L84.57 256.35 L85.38 256.32 L86.20 256.30 L87.01 256.28 L87.82 256.25 L88.63 256.23 L89.44 256.22 L90.26 256.20 L91.07 256.19 L91.88 256.17 L92.69 256.16 L93.50 256.15 L94.31 256.14 L95.12 256.14 L95.93 256.13 L96.73 256.12 L97.54 256.12 L98.35 256.12 L99.16 256.12 L99.97 256.12 L100.78 256.12 L101.58 256.12 L102.39 256.12 L103.20 256.12 L104.01 256.13 L104.81 256.13 L105.62 256.13 L106.43 256.14 L107.23 256.14 L108.04 256.15 L108.85 256.16 L109.65 256.16 L110.46 256.17 L111.27 256.18 L112.07 256.18 L112.88 256.19 L113.69 256.20 L114.49 256.20 L115.30 256.21 L116.10 256.22 L116.91 256.22 L117.72 256.23 L118.52 256.23 L119.33 256.24 L120.13 256.24 L120.94 256.25 L121.75 256.25 L122.55 256.26 L123.36 256.26 L124.17 256.26 L124.97 256.26 L125.78 256.26 L126.59 256.26 L127.39 256.25 L128.20 256.25 L129.01 256.25 L129.81 256.24 L130.62 256.23 L131.43 256.23 L132.24 256.22 L133.04 256.20 L133.85 256.19 L134.66 256.18 L135.47 256.16 L136.28 256.14 L137.09 256.13 L137.90 256.10 L138.70 256.08 L139.51 256.06 L140.32 256.03 L141.13 256.00 L141.94 255.97 L142.76 255.94 L143.57 255.90 L144.38 255.87 L145.19 255.83 L146.00 255.78 L146.81 255.74 L147.63 255.69 L148.44 255.64 L149.25 255.59 L150.07 255.54 L150.88 255.48 L151.70 255.42 L152.51 255.36 L153.33 255.29 L154.14 255.22 L154.96 255.15 L155.78 255.07 L156.59 255.00 L157.41 254.92 L158.23 254.83 L159.05 254.74 L159.87 254.65 L160.69 254.56 L161.51 254.46 L162.33 254.36 L163.15 254.25 L163.97 254.14 L164.79 254.03 L165.61 253.92 L166.44 253.79 L167.26 253.67 L168.08 253.54 L168.90 253.41 L169.73 253.27 L170.55 253.12 L171.36 252.97 L172.18 252.82 L172.99 252.65 L173.81 252.48 L174.62 252.31 L175.42 252.12 L176.22 251.93 L177.02 251.73 L177.81 251.52 L178.60 251.30 L179.39 251.08 L180.17 250.84 L180.94 250.60 L181.71 250.34 L182.47 250.08 L183.23 249.80 L183.98 249.52 L184.72 249.22 L185.45 248.91 L186.18 248.59 L186.90 248.26 L187.61 247.92 L188.31 247.56 L189.00 247.19 L189.68 246.81 L190.36 246.41 L191.02 246.00 L191.67 245.58 L192.31 245.14 L192.94 244.69 L193.56 244.22 L194.17 243.73 L194.77 243.23 L195.35 242.72 L195.92 242.19 L196.48 241.64 L197.03 241.09 L197.57 240.52 L198.09 239.93 L198.60 239.33 L199.10 238.72 L199.58 238.10 L200.05 237.47 L200.51 236.83 L200.96 236.18 L201.40 235.52 L201.82 234.84 L202.23 234.16 L202.62 233.47 L203.00 232.78 L203.37 232.07 L203.73 231.36 L204.07 230.65 L204.41 229.92 L204.73 229.19 L205.04 228.45 L205.33 227.71 L205.62 226.96 L205.90 226.20 L206.16 225.44 L206.42 224.67 L206.66 223.90 L206.90 223.12 L207.13 222.34 L207.34 221.55 L207.55 220.76 L207.75 219.96 L207.95 219.16 L208.13 218.36 L208.31 217.55 L208.48 216.74 L208.64 215.93 L208.79 215.11 L208.94 214.29 L209.08 213.47 L209.22 212.65 L209.35 211.82 L209.47 210.99 L209.59 210.16 L209.71 209.33 L209.82 208.49 L209.92 207.66 L210.03 206.83 L210.12 205.99 L210.22 205.15 L210.31 204.32 L210.40 203.48 L210.48 202.64 L210.57 201.80 L210.65 200.97 L210.73 200.13 L210.80 199.30 L210.88 198.46 L210.95 197.63 L211.03 196.80 L211.10 195.97 L211.18 195.14 L211.25 194.32 L211.32 193.49 L211.39 192.67 L211.47 191.85 L211.54 191.03 L211.61 190.22 L211.68 189.40 L211.75 188.59 L211.82 187.77 L211.89 186.96 L211.96 186.15 L212.03 185.34 L212.10 184.54 L212.17 183.73 L212.24 182.92 L212.31 182.12 L212.38 181.32 L212.44 180.52 L212.51 179.71 L212.58 178.91 L212.64 178.11 L212.71 177.32 L212.77 176.52 L212.84 175.72 L212.90 174.92 L212.96 174.13 L213.03 173.33 L213.09 172.54 L213.15 171.74 L213.21 170.95 L213.27 170.16 L213.33 169.36 L213.39 168.57 L213.45 167.78 L213.51 166.98 L213.56 166.19 L213.62 165.40 L213.67 164.60 L213.73 163.81 L213.78 163.02 L213.84 162.23 L213.89 161.43 L213.94 160.64 L213.99 159.85 L214.04 159.05 L214.09 158.26 L214.14 157.46 L214.19 156.67 L214.24 155.87 L214.28 155.07 L214.33 154.27 L214.37 153.48 L214.42 152.68 L214.46 151.88 L214.50 151.08 L214.55 150.28 L214.59 149.48 L214.63 148.68 L214.67 147.87 L214.70 147.07 L214.74 146.27 L214.78 145.46 L214.82 144.66 L214.85 143.85 L214.89 143.05 L214.92 142.24 L214.96 141.43 L214.99 140.63 L215.03 139.82 L215.06 139.01 L215.09 138.20 L215.12 137.40 L215.15 136.59 L215.19 135.78 L215.22 134.97 L215.25 134.16 L215.28 133.34 L215.31 132.53 L215.34 131.72 L215.36 130.91 L215.39 130.10 L215.42 129.29 L215.45 128.47 L215.48 127.66 L215.50 126.85 L215.53 126.03 L215.56 125.22 L215.59 124.40 L215.61 123.59 L215.64 122.77 L215.67 121.96 L215.69 121.14 L215.72 120.33 L215.75 119.51 L215.77 118.69 L215.80 117.88 L215.82 117.06 L215.85 116.25 L215.88 115.43 L215.90 114.61 L215.93 113.79 L215.96 112.98 L215.98 112.16 L216.01 111.34 L216.04 110.53 L216.06 109.71 L216.09 108.89 L216.12 108.07 L216.15 107.25 L216.17 106.44 L216.20 105.62 L216.23 104.80 L216.26 103.98 L216.29 103.17 L216.32 102.35 L216.35 101.53 L216.38 100.71 L216.41 99.89 L216.44 99.08 L216.47 98.26 L216.50 97.44 L216.53 96.62 L216.57 95.81 L216.60 94.99 L216.63 94.17 L216.67 93.35 L216.70 92.54 L216.74 91.72 L216.77 90.90 L216.81 90.09 L216.85 89.27 L216.88 88.46 L216.92 87.64 L216.96 86.82 L217.00 86.01 L217.04 85.19 L217.08 84.38 L217.12 83.56 L217.17 82.75 L217.21 81.93 L217.26 81.12 L217.30 80.31 L217.35 79.49 L217.39 78.68 L217.44 77.87 L217.49 77.05 L217.54 76.24 L217.59 75.43 L217.64 74.62 L217.69 73.81 L217.75 73.00 L217.80 72.19 L217.85 71.38 L217.91 70.57 L217.97 69.76 L218.03 68.95 L218.09 68.14 L218.15 67.33 L218.21 66.53 L218.27 65.72 L218.34 64.91 L218.40 64.11 L218.47 63.30 L218.53 62.50 L218.60 61.69 L218.67 60.89 L218.75 60.09 L218.82 59.28 L218.89 58.48 L218.97 57.68 L219.04 56.88 L219.12 56.08 L219.20 55.28 L219.28 54.48 L219.37 53.68 L219.45 52.88 L219.53 52.09 L219.62 51.29 L219.71 50.50 L219.80 49.70" stroke="#00ffff" stroke-dasharray="1.7 1.85"/>
<path d="M219.80 49.70 L219.89 50.37 L219.97 51.03 L220.06 51.70 L220.14 52.36 L220.22 53.03 L220.30 53.70 L220.38 54.36 L220.46 55.03 L220.54 55.69 L220.62 56.36 L220.70 57.03 L220.77 57.69 L220.85 58.36 L220.92 59.03 L221.00 59.69 L221.07 60.36 L221.15 61.03 L221.22 61.70 L221.29 62.36 L221.36 63.03 L221.43 63.70 L221.50 64.36 L221.57 65.03 L221.64 65.70 L221.70 66.37 L221.77 67.04 L221.84 67.70 L221.90 68.37 L221.97 69.04 L222.03 69.71 L222.10 70.37 L222.16 71.04 L222.23 71.71 L222.29 72.38 L222.35 73.05 L222.41 73.72 L222.47 74.38 L222.54 75.05 L222.60 75.72 L222.66 76.39 L222.72 77.06 L222.78 77.73 L222.84 78.40 L222.90 79.07 L222.96 79.73 L223.02 80.40 L223.07 81.07 L223.13 81.74 L223.19 82.41 L223.25 83.08 L223.31 83.75 L223.36 84.42 L223.42 85.09 L223.48 85.76 L223.54 86.43 L223.59 87.10 L223.65 87.77 L223.71 88.44 L223.76 89.11 L223.82 89.78 L223.88 90.45 L223.93 91.12 L223.99 91.79 L224.05 92.46 L224.10 93.13 L224.16 93.80 L224.22 94.47 L224.27 95.14 L224.33 95.81 L224.39 96.48 L224.45 97.15 L224.50 97.82 L224.56 98.49 L224.62 99.17 L224.68 99.84 L224.73 100.51 L224.79 101.18 L224.85 101.85 L224.91 102.52 L224.97 103.19 L225.03 103.86 L225.09 104.54 L225.15 105.21 L225.21 105.88 L225.27 106.55 L225.33 107.22 L225.39 107.89 L225.45 108.57 L225.51 109.24 L225.58 109.91 L225.64 110.58 L225.70 111.25 L225.77 111.93 L225.83 112.60 L225.90 113.27 L225.96 113.94 L226.03 114.62 L226.09 115.29 L226.16 115.96 L226.23 116.63 L226.29 117.31 L226.36 117.98 L226.43 118.65 L226.50 119.32 L226.57 120.00 L226.64 120.67 L226.72 121.34 L226.79 122.02 L226.86 122.69 L226.94 123.36 L227.01 124.03 L227.09 124.71 L227.16 125.38 L227.24 126.05 L227.32 126.73 L227.39 127.40 L227.47 128.08 L227.55 128.75 L227.64 129.42 L227.72 130.10 L227.80 130.77 L227.88 131.44 L227.97 132.12 L228.06 132.79 L228.14 133.47 L228.23 134.14 L228.33 134.81 L228.42 135.48 L228.51 136.16 L228.61 136.83 L228.71 137.50 L228.81 138.17 L228.92 138.84 L229.03 139.51 L229.14 140.18 L229.25 140.85 L229.37 141.51 L229.49 142.18 L229.62 142.84 L229.75 143.51 L229.88 144.17 L230.01 144.83 L230.15 145.49 L230.30 146.15 L230.45 146.81 L230.60 147.47 L230.76 148.12 L230.93 148.78 L231.10 149.43 L231.27 150.08 L231.45 150.73 L231.63 151.38 L231.83 152.02 L232.02 152.67 L232.22 153.31 L232.43 153.95 L232.65 154.59 L232.87 155.22 L233.10 155.86 L233.33 156.49 L233.58 157.12 L233.83 157.74 L234.08 158.37 L234.35 158.98 L234.62 159.60 L234.90 160.21 L235.19 160.81 L235.48 161.41 L235.79 162.01 L236.10 162.60 L236.42 163.18 L236.75 163.75 L237.09 164.32 L237.44 164.89 L237.80 165.44 L238.17 165.99 L238.55 166.53 L238.94 167.06 L239.34 167.58 L239.75 168.10 L240.17 168.60 L240.60 169.10 L241.05 169.58 L241.50 170.05 L241.96 170.52 L242.44 170.97 L242.93 171.41 L243.43 171.84 L243.94 172.26 L244.47 172.67 L245.00 173.07 L245.55 173.45 L246.10 173.83 L246.67 174.20 L247.24 174.56 L247.81 174.91 L248.40 175.26 L248.99 175.60 L249.59 175.93 L250.19 176.26 L250.80 176.58 L251.41 176.90 L252.02 177.21 L252.64 177.52 L253.26 177.83 L253.88 178.14 L254.50 178.44 L255.12 178.74 L255.73 179.04 L256.35 179.35 L256.97 179.65 L257.58 179.95 L258.19 180.26 L258.80 180.57 L259.41 180.87 L260.01 181.18 L260.61 181.49 L261.22 181.80 L261.81 182.11 L262.41 182.42 L263.01 182.73 L263.60 183.05 L264.20 183.36 L264.79 183.67 L265.38 183.99 L265.97 184.30 L266.56 184.62 L267.16 184.93 L267.74 185.25 L268.33 185.57 L268.92 185.88 L269.51 186.20 L270.10 186.52 L270.69 186.84 L271.28 187.16 L271.87 187.47 L272.47 187.79 L273.06 188.11 L273.65 188.43 L274.24 188.74 L274.83 189.06 L275.43 189.38 L276.02 189.69 L276.61 190.01 L277.21 190.32 L277.80 190.63 L278.40 190.95 L278.99 191.26 L279.59 191.57 L280.19 191.88 L280.79 192.18 L281.38 192.49 L281.98 192.79 L282.58 193.10 L283.19 193.40 L283.79 193.70 L284.39 194.00 L284.99 194.29 L285.60 194.59 L286.20 194.88 L286.81 195.17 L287.42 195.46 L288.02 195.74 L288.63 196.02 L289.24 196.30 L289.86 196.58 L290.47 196.86 L291.08 197.13 L291.70 197.40 L292.31 197.66 L292.93 197.93 L293.55 198.19 L294.17 198.44 L294.79 198.70 L295.41 198.95 L296.04 199.20 L296.66 199.44 L297.29 199.68 L297.91 199.92 L298.54 200.15 L299.17 200.38 L299.80 200.61 L300.44 200.83 L301.07 201.05 L301.70 201.27 L302.34 201.49 L302.98 201.70 L303.61 201.91 L304.25 202.12 L304.89 202.32 L305.53 202.52 L306.17 202.72 L306.82 202.92 L307.46 203.12 L308.10 203.31 L308.75 203.50 L309.40 203.69 L310.04 203.87 L310.69 204.06 L311.34 204.24 L311.99 204.42 L312.64 204.60 L313.29 204.77 L313.94 204.95 L314.59 205.12 L315.24 205.29 L315.90 205.46 L316.55 205.62 L317.21 205.79 L317.86 205.95 L318.52 206.12 L319.17 206.28 L319.83 206.44 L320.48 206.60 L321.14 206.75 L321.80 206.91 L322.46 207.06 L323.11 207.22 L323.77 207.37 L324.43 207.52 L325.09 207.67 L325.75 207.83 L326.41 207.97 L327.07 208.12 L327.73 208.27 L328.39 208.42 L329.05 208.57 L329.71 208.71 L330.37 208.86 L331.03 209.01 L331.69 209.15 L332.35 209.30 L333.01 209.44 L333.67 209.59 L334.33 209.73 L334.99 209.88 L335.65 210.02 L336.31 210.17 L336.97 210.31 L337.63 210.46 L338.29 210.60 L338.95 210.75 L339.61 210.89 L340.27 211.04 L340.93 211.19 L341.59 211.34 L342.24 211.48 L342.90 211.63 L343.56 211.78 L344.22 211.93 L344.87 212.08 L345.53 212.23 L346.19 212.38 L346.84 212.52 L347.50 212.67 L348.16 212.82 L348.81 212.97 L349.47 213.11 L350.13 213.26 L350.78 213.41 L351.44 213.55 L352.10 213.69 L352.75 213.84 L353.41 213.98 L354.07 214.12 L354.73 214.26 L355.38 214.40 L356.04 214.53 L356.70 214.67 L357.36 214.80 L358.02 214.93 L358.68 215.06 L359.34 215.19 L360.00 215.32 L360.66 215.44 L361.32 215.56 L361.98 215.68 L362.64 215.80 L363.30 215.92 L363.97 216.03 L364.63 216.14 L365.29 216.25 L365.96 216.35 L366.62 216.46 L367.29 216.56 L367.96 216.65 L368.62 216.75 L369.29 216.84 L369.96 216.92 L370.63 217.01 L371.30 217.09 L371.97 217.16 L372.65 217.24 L373.32 217.31 L373.99 217.37 L374.67 217.44 L375.34 217.50 L376.02 217.55 L376.70 217.60" stroke="#00ffff" stroke-dasharray="1.7 1.85"/>
<line x1="318.8" y1="29.1" x2="371.3" y2="29.1" stroke="#ff0000"/>
<line x1="318.8" y1="56.3" x2="371.3" y2="56.3" stroke="#00dd00" stroke-dasharray="14.1 7"/>
<line x1="318.8" y1="83.15" x2="371.3" y2="83.15" stroke="#0000ff" stroke-dasharray="14.1 3.2 2.1 3.4"/>
<line x1="319.0" y1="110.2" x2="371.3" y2="110.2" stroke="#00ffff" stroke-dasharray="1.7 1.85"/>
</g>
<g stroke="#000" stroke-width="1" fill="none">
<rect x="71.50" y="8.50" width="305.50" height="249.80"/>
<line x1="122.42" y1="258.30" x2="122.42" y2="252.80"/><line x1="122.42" y1="8.50" x2="122.42" y2="14.00"/><line x1="173.33" y1="258.30" x2="173.33" y2="252.80"/><line x1="173.33" y1="8.50" x2="173.33" y2="14.00"/><line x1="224.25" y1="258.30" x2="224.25" y2="252.80"/><line x1="224.25" y1="8.50" x2="224.25" y2="14.00"/><line x1="275.17" y1="258.30" x2="275.17" y2="252.80"/><line x1="275.17" y1="8.50" x2="275.17" y2="14.00"/><line x1="326.08" y1="258.30" x2="326.08" y2="252.80"/><line x1="326.08" y1="8.50" x2="326.08" y2="14.00"/><line x1="71.50" y1="195.85" x2="77.00" y2="195.85"/><line x1="377.00" y1="195.85" x2="371.50" y2="195.85"/><line x1="71.50" y1="133.40" x2="77.00" y2="133.40"/><line x1="377.00" y1="133.40" x2="371.50" y2="133.40"/><line x1="71.50" y1="70.95" x2="77.00" y2="70.95"/><line x1="377.00" y1="70.95" x2="371.50" y2="70.95"/>
</g>
<g class="sans"><text x="71.70" y="276.4" text-anchor="middle">-6</text><text x="122.62" y="276.4" text-anchor="middle">-4</text><text x="173.53" y="276.4" text-anchor="middle">-2</text><text x="224.55" y="276.4" text-anchor="middle">0</text><text x="275.47" y="276.4" text-anchor="middle">2</text><text x="326.38" y="276.4" text-anchor="middle">4</text><text x="377.30" y="276.4" text-anchor="middle">6</text><text x="64.8" y="265.10" text-anchor="end">0</text><text x="68.7" y="202.65" text-anchor="end">0.1</text><text x="68.7" y="140.20" text-anchor="end">0.2</text><text x="68.7" y="77.75" text-anchor="end">0.3</text><text x="68.7" y="15.30" text-anchor="end">0.4</text></g>
<g class="serif" font-size="23.5px">
<text transform="translate(260.3,38.8) scale(1.3,1)">=</text><text transform="translate(283.0,38.0) scale(1.05,1)">1.2</text><text transform="translate(260.3,67.0) scale(1.3,1)">=</text><text transform="translate(283.0,66.2) scale(1.05,1)">0.8</text><text transform="translate(260.3,92.8) scale(1.3,1)">=</text><text transform="translate(283.0,92.0) scale(1.05,1)">0.4</text><text transform="translate(260.3,119.8) scale(1.3,1)">=</text><text transform="translate(283.0,119.0) scale(1.05,1)">0</text><text class="it" transform="translate(221.0,38) scale(1.1,1)">μ</text><text class="it" transform="translate(236.3,38) scale(0.7,1.03)">/</text><text class="it" transform="translate(243.0,38) scale(1.1,1)">T</text>
</g>
<text class="serif it" font-size="33.7px" transform="translate(192.20,307.7) scale(1.019,1.170) skewX(-8)">ω</text><text class="serif it" font-size="33.7px" transform="translate(218.88,307.7) scale(0.844,1.000)">/</text><text class="serif it" font-size="33.7px" transform="translate(231.30,307.7) scale(1.090,1.000)">T</text>
<text class="serif" font-size="38px" stroke="#fff" stroke-width="0.08" transform="translate(27.00,203.00) rotate(-90) scale(0.745,0.980)">(</text><text class="serif" font-size="38px" stroke="#fff" stroke-width="0.08" transform="translate(27.00,164.60) rotate(-90) scale(0.737,0.980)">)</text><text class="serif" font-size="38px" stroke="#fff" stroke-width="0.08" transform="translate(27.00,111.60) rotate(-90) scale(0.784,0.980)">(</text><text class="serif" font-size="38px" stroke="#fff" stroke-width="0.08" transform="translate(27.00,53.00) rotate(-90) scale(0.769,0.980)">)</text><text class="serif it" font-size="37.5px" stroke="#fff" stroke-width="0.12" transform="translate(27.00,223.34) rotate(-90) scale(0.963,1.000) skewX(-14)">ρ</text><text class="serif it" font-size="37.5px" stroke="#fff" stroke-width="0.12" transform="translate(27.40,192.60) rotate(-90) scale(0.943,1.020) skewX(-8)">ω</text><text class="serif it" font-size="37.5px" transform="translate(27.00,153.40) rotate(-90) scale(1.090,1.000)">k</text><text class="serif it" font-size="25.3px" transform="translate(34.00,134.70) rotate(-90) scale(0.933,1.000)">T</text><text class="serif it" font-size="37.5px" transform="translate(27.00,120.85) rotate(-90) scale(0.544,1.000)">/</text><text class="serif it" font-size="37.5px" transform="translate(27.00,99.80) rotate(-90) scale(0.816,1.000)">2</text><text class="serif it" font-size="37.5px" transform="translate(27.20,81.20) rotate(-90) scale(0.937,1.000)">m</text>
</svg>
</body></html>
